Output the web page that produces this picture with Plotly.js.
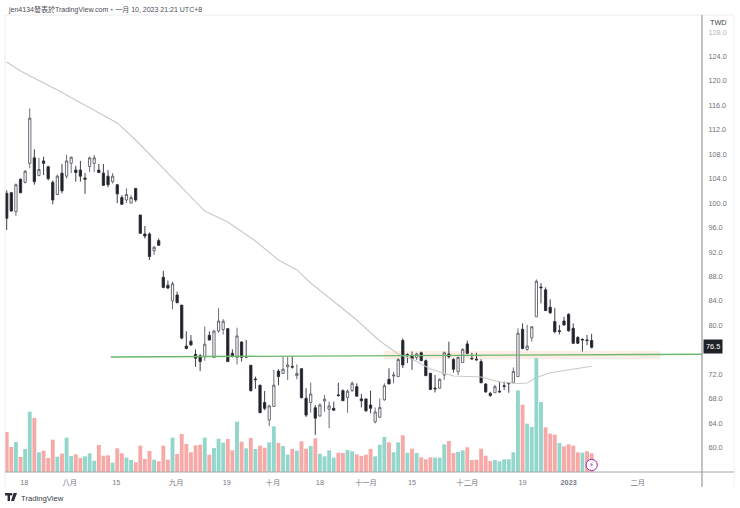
<!DOCTYPE html>
<html><head><meta charset="utf-8">
<script src="https://cdn.plot.ly/plotly-3.0.1.min.js"></script>
<style>html,body{margin:0;padding:0;background:#fff}#c{width:740px;height:508px}</style>
</head><body><div id="c"></div>
<script>
const opens=[101.6,101.7,98.6,103.9,103.4,106.5,107.4,104.5,106.9,105.95,
103.4,101.4,104.9,104.4,106.5,105.4,105.4,104.1,106.0,106.5,
105.4,104.9,104.4,103.5,103.0,100.9,100.5,100.0,102.4,98.05,
94.94,94.94,92.2,93.85,87.85,86.55,84.0,84.95,83.3,76.6,
77.4,75.25,75.0,74.9,78.35,74.75,79.05,79.3,79.45,75.4,
74.75,77.25,74.9,73.45,71.2,70.2,67.35,64.5,66.7,72.5,
72.1,73.2,73.25,71.75,72.9,68.05,67.35,66.5,65.15,67.6,
66.25,66.4,68.6,69.3,68.15,69.3,69.95,67.95,67.95,66.95,
64.2,64.95,67.8,71.15,71.7,71.6,77.5,75.2,75.0,74.75,
75.5,74.2,72.15,69.7,69.7,71.85,75.3,74.4,72.4,73.9,
76.95,74.6,74.45,74.05,70.4,68.85,68.95,69.2,70.1,70.55,
70.6,71.6,79.35,76.05,77.95,81.4,86.25,85.8,82.95,80.6,
79.1,80.7,81.8,79.5,78.0,77.7,77.6,77.5];
const highs=[102.1,101.8,103.2,104.0,105.4,115.5,108.8,107.4,107.6,106.1,
103.7,104.7,106.4,107.9,107.6,106.1,106.9,104.9,107.6,107.9,
106.4,106.4,105.4,104.9,103.1,101.3,102.4,101.3,102.4,98.05,
96.25,95.2,93.0,94.2,88.9,87.3,87.15,85.5,83.3,79.0,
78.4,76.05,75.3,79.8,79.0,79.2,82.8,81.0,79.45,76.05,
79.6,77.4,77.6,73.45,71.6,70.2,69.25,67.0,72.7,72.8,
74.85,74.85,74.85,73.6,72.9,69.7,70.6,66.95,67.2,68.6,
67.5,67.5,70.6,69.5,69.5,70.8,70.5,68.75,67.95,69.3,
66.55,68.05,70.5,72.95,72.4,74.6,77.85,75.4,75.7,75.5,
75.7,74.4,72.15,71.85,71.3,75.7,77.3,74.6,74.85,76.25,
77.5,75.5,75.5,74.45,70.5,69.1,70.25,70.8,70.8,70.6,
73.1,79.5,80.3,80.05,79.85,87.5,86.9,86.2,84.25,82.8,
80.05,81.4,81.95,80.3,78.25,77.85,78.4,78.6];
const lows=[95.6,98.6,97.9,101.6,103.2,105.7,103.0,104.4,104.6,103.7,
99.8,101.3,101.6,104.0,104.9,103.5,103.5,101.5,105.1,105.1,
104.9,102.8,102.6,103.2,100.0,99.7,100.0,100.0,100.2,95.0,
94.2,90.7,91.5,93.0,86.05,85.9,82.6,83.6,77.7,76.05,
76.6,73.2,72.5,74.2,77.5,74.7,78.8,78.5,74.05,74.75,
73.6,74.05,74.7,69.15,69.6,65.6,66.1,63.5,66.7,70.2,
72.1,71.05,72.9,71.15,68.05,65.0,65.7,62.05,65.05,65.85,
63.15,66.0,68.3,67.6,65.7,69.1,68.3,66.55,65.85,65.6,
63.95,64.8,67.65,70.35,70.5,71.6,73.0,73.8,72.7,74.3,
74.2,71.7,69.4,69.0,69.6,71.05,74.6,72.25,71.85,73.8,
75.25,74.4,74.2,70.5,68.95,68.3,68.95,68.95,69.4,68.95,
70.6,71.6,76.05,75.85,77.3,81.4,83.6,82.35,81.85,78.7,
78.5,79.95,78.95,76.95,76.95,75.7,76.75,76.2];
const closes=[97.5,98.7,103.0,101.7,105.2,113.9,103.5,105.5,106.5,104.0,
100.5,104.4,102.0,106.9,107.5,105.0,104.4,103.9,107.4,107.4,
105.0,102.9,103.0,104.4,101.5,99.8,101.4,100.9,100.5,95.05,
94.6,91.25,92.76,93.1,86.2,86.1,86.8,83.7,77.9,76.2,
76.8,74.6,74.05,76.9,77.6,79.05,80.7,80.65,74.05,75.0,
78.25,74.75,74.8,69.3,71.1,65.7,66.4,66.8,70.2,71.6,
72.8,73.5,73.15,72.1,68.15,65.3,68.75,64.8,66.95,67.9,
66.8,66.1,68.5,67.65,69.2,70.5,68.4,67.65,66.0,66.4,
65.8,66.55,70.1,70.4,71.85,74.4,73.5,75.1,74.5,75.3,
74.2,71.75,69.5,69.6,71.15,75.5,74.85,72.8,74.75,76.05,
75.4,74.5,74.35,70.6,69.1,68.5,69.95,69.1,70.0,70.45,
72.45,78.7,76.2,76.6,79.75,87.2,86.15,82.4,82.05,78.95,
79.0,80.05,79.1,77.05,77.05,77.6,77.5,76.4];
const volumes=[120,75,90,45,69,181,162,59,64,42,
97,46,55,103,48,53,42,47,56,34,
81,49,50,28,71,56,43,36,29,79,
39,63,37,32,79,37,103,54,114,84,
59,80,82,103,52,72,100,88,99,65,
151,91,71,102,69,79,73,89,137,87,
78,52,69,64,92,70,78,101,55,47,
65,43,58,57,66,62,53,48,52,69,
47,82,105,89,59,89,110,58,70,57,
44,38,44,43,43,83,93,57,60,65,
74,36,37,70,49,33,36,32,38,38,
59,245,202,145,135,342,210,134,115,112,
87,77,83,79,59,58,62,56];
const tealVol=[2,4,5,7,11,13,14,17,18,19,23,26,27,32,36,43,45,46,47,50,52,54,57,58,60,61,63,
66,68,69,70,71,74,75,80,81,82,84,85,87,89,93,94,95,98,99,106,107,108,109,110,111,113,114,115,116,120,125];
const maIndex=[0,3,11,24,28,38,43,48,54,59,63,66,76,81,85,88,92,97,103,107,111,113,115,118,122,127];
const maValues=[123.09,121.62,118.51,113.11,110.32,102.47,98.70,96.90,93.79,90.68,89.05,86.92,80.86,77.43,75.30,74.48,72.84,71.70,71.53,70.72,70.47,70.55,71.45,72.24,72.68,73.29];
const trendIndex=[22.6,150.96];
const trendValues=[74.81,75.25];
const xTickVals=[3.8,13.7,23.8,36.8,47.8,57.8,68,78,88,100,112,122,137];
const xTickText=["18","八月","15","九月","19","十月","18","十一月","15","十二月","19","<b>2023</b>","二月"];
const yTickVals=[60,64,68,72,80,84,88,92,96,100,104,108,112,116,120,124,128];
const lastPrice=76.5;
const zoneIndex=[81.9,142];
const zoneValues=[74.43,75.79];

const bars=opens.map((_,i)=>i);
const F='"Liberation Sans","Noto Sans CJK TC",sans-serif';
const W=740,H=508,L=5,R=702,T=15,B=487;
const px=x=>(x-L)/(R-L), py=y=>1-(y-T)/(B-T);
const chrome=(x0,y0,x1,y1,color,w)=>({type:'line',xref:'paper',yref:'paper',x0:px(x0),y0:py(y0),x1:px(x1),y1:py(y1),line:{color,width:w}});
const logo=[[5,493,10,493,10,501,7.6,501,7.6,495.5,5,495.5],[13.5,493,17,493,14,501,11,501]];
const logoDot=[11,494.3,1.3];
const pathOf=p=>{let s='';for(let i=0;i<p.length;i+=2)s+=(i?'L':'M')+px(p[i])+','+py(p[i+1]);return s+'Z';};
const data=[
 {type:'candlestick',x:bars,open:opens,high:highs,low:lows,close:closes,xaxis:'x',yaxis:'y',whiskerwidth:0,
  increasing:{line:{color:'#5a5d66',width:0.9},fillcolor:'#ffffff'},
  decreasing:{line:{color:'#2a2d35',width:0.9},fillcolor:'#1c1e26'},hoverinfo:'skip'},
 {type:'scatter',mode:'lines',x:maIndex,y:maValues,xaxis:'x',yaxis:'y',line:{color:'#c9c9c9',width:1.1},hoverinfo:'skip'},
 {type:'scatter',mode:'lines',x:trendIndex,y:trendValues,xaxis:'x',yaxis:'y',line:{color:'#6cb76c',width:1.4},hoverinfo:'skip'},
 {type:'bar',x:bars,y:volumes,xaxis:'x',yaxis:'y2',marker:{color:bars.map(i=>tealVol.includes(i)?'#92d6cc':'#f7a9a7'),line:{width:0}},hoverinfo:'skip'}
];
const layout={
 width:W,height:H,margin:{l:L,r:W-R,t:T,b:H-B},paper_bgcolor:'#fff',plot_bgcolor:'rgba(0,0,0,0)',showlegend:false,bargap:0.16,
 font:{family:F,size:7.3,color:'#787b86'},
 xaxis:{anchor:'y2',domain:[0,1],range:[-0.37,150.96],rangeslider:{visible:false},tickmode:'array',tickvals:xTickVals,ticktext:xTickText,
   showgrid:false,zeroline:false,showline:false,ticks:'outside',ticklen:3,tickcolor:'rgba(0,0,0,0)',tickfont:{size:7.3,color:'#787b86',family:F}},
 yaxis:{domain:[0,1],anchor:'x',side:'right',range:[53.53,130.78],tickmode:'array',tickvals:yTickVals,
   ticktext:yTickVals.map(v=>v===128?'<span style="color:#b5b7bd">128.0</span>':v.toFixed(1)),
   showgrid:false,zeroline:false,showline:false,ticks:'outside',ticklen:4,tickcolor:'rgba(0,0,0,0)',tickfont:{size:7.3,color:'#6f727c',family:F}},
 yaxis2:{domain:[15/472,215/472],anchor:'x',range:[0,600],showgrid:false,zeroline:false,showline:false,showticklabels:false,ticks:''},
 shapes:[
  {type:'rect',xref:'x',yref:'y',x0:zoneIndex[0],x1:zoneIndex[1],y0:zoneValues[0],y1:zoneValues[1],fillcolor:'rgba(250,222,208,0.55)',line:{width:0},layer:'below'},
  chrome(L,T,734,T,'#ececec',1),chrome(L,T,L,B,'#ececec',1),chrome(734,T,734,B,'#f2f2f2',1),
  chrome(L,472,734,472,'#a8a8a8',1),chrome(R,T,R,B,'#9a9a9a',1.2),
  {type:'circle',xref:'paper',yref:'paper',x0:px(586.1),x1:px(597.3),y0:py(470.6),y1:py(459.4),fillcolor:'#fff',line:{color:'#9c27b0',width:1}},
  {type:'path',xref:'paper',yref:'paper',path:pathOf(logo[0]),fillcolor:'#2a2e39',line:{width:0}},
  {type:'path',xref:'paper',yref:'paper',path:pathOf(logo[1]),fillcolor:'#2a2e39',line:{width:0}},
  {type:'circle',xref:'paper',yref:'paper',x0:px(logoDot[0]-logoDot[2]),x1:px(logoDot[0]+logoDot[2]),y0:py(logoDot[1]+logoDot[2]),y1:py(logoDot[1]-logoDot[2]),fillcolor:'#2a2e39',line:{width:0}}
 ],
 annotations:[
  {xref:'paper',yref:'paper',x:px(6),y:py(9),xanchor:'left',yanchor:'middle',showarrow:false,text:'jen4134發表於TradingView.com・一月 10, 2023 21:21 UTC+8',font:{size:7,color:'#4a4d55',family:F}},
  {xref:'paper',yref:'paper',x:px(708),y:py(23),xanchor:'left',yanchor:'middle',showarrow:false,text:'TWD',font:{size:7.3,color:'#3c3f47',family:F}},
  {xref:'paper',yref:'y',x:px(703),y:lastPrice,xanchor:'left',yanchor:'middle',showarrow:false,text:lastPrice.toFixed(1),bgcolor:'#1f2229',borderpad:2,font:{size:7.3,color:'#fff',family:F}},
  {xref:'paper',yref:'paper',x:px(19),y:py(498),xanchor:'left',yanchor:'middle',showarrow:false,text:'TradingView',font:{size:7.7,color:'#3a3d45',family:F}},
  {xref:'paper',yref:'paper',x:px(591.7),y:py(465),xanchor:'center',yanchor:'middle',showarrow:false,text:'⚡',font:{size:7,color:'#9c27b0',family:'"DejaVu Sans"'}}
 ]
};
Plotly.newPlot('c',data,layout,{staticPlot:true,displayModeBar:false});
</script></body></html>
